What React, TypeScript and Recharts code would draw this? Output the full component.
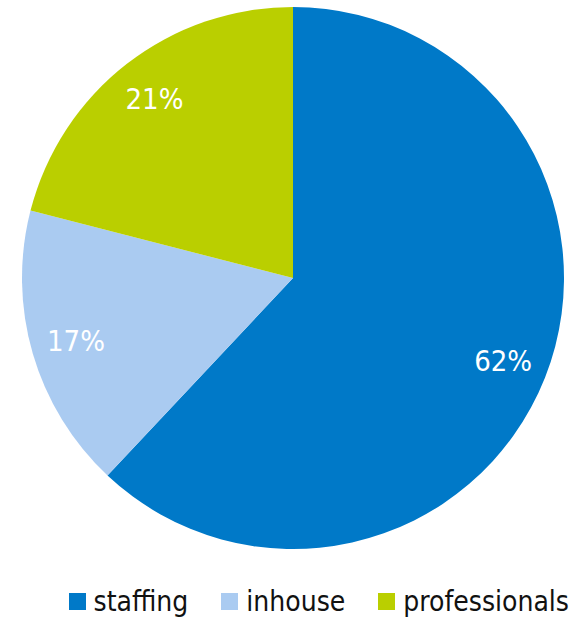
import React from 'react';
import { PieChart, Pie, Cell, Legend } from 'recharts';

const categories = ['staffing', 'inhouse', 'professionals'];
const shares = [62, 17, 21];
const colors = ['#0079C8', '#AACBF1', '#BACF00'];

const data = categories.map((name, i) => ({ name, value: shares[i] }));

const RADIAN = Math.PI / 180;
const FONT = '"DejaVu Sans Condensed", "DejaVu Sans", sans-serif';

const renderLabel = (props: any) => {
    const { cx, cy, midAngle, value } = props;
    const r = 226;
    const x = cx + r * Math.cos(-midAngle * RADIAN);
    const y = cy + r * Math.sin(-midAngle * RADIAN);
    return (
        <text x={x} y={y} fill="#fff" textAnchor="middle" dominantBaseline="central" fontSize={29} fontFamily={FONT}>
            {`${value}%`}
        </text>
    );
};

const renderLegend = () => (
    <div style={{ display: 'flex', justifyContent: 'flex-end', paddingRight: 9, fontFamily: FONT, fontSize: 28, color: '#111' }}>
        {data.map((d, i) => (
            <div key={d.name} style={{ display: 'flex', alignItems: 'center', marginLeft: i === 0 ? 0 : 33 }}>
                <span style={{ width: 17, height: 17, background: colors[i], display: 'inline-block', marginRight: 8 }} />
                <span>{d.name}</span>
            </div>
        ))}
    </div>
);

export default function App() {
    return (
        <div style={{ position: 'absolute', left: 0, top: 0, width: 578, height: 619, background: '#fff' }}>
            <PieChart width={578} height={619} margin={{ top: 0, right: 0, bottom: 0, left: 0 }}>
                <Pie
                    data={data}
                    dataKey="value"
                    cx={293}
                    cy={278}
                    outerRadius={271}
                    startAngle={90}
                    endAngle={-270}
                    stroke="none"
                    labelLine={false}
                    label={renderLabel}
                    isAnimationActive={false}
                >
                    {data.map((d, i) => (
                        <Cell key={d.name} fill={colors[i]} />
                    ))}
                </Pie>
                <Legend
                    content={renderLegend}
                    wrapperStyle={{ position: 'absolute', left: 0, top: 585, width: 578 }}
                />
            </PieChart>
        </div>
    );
}
